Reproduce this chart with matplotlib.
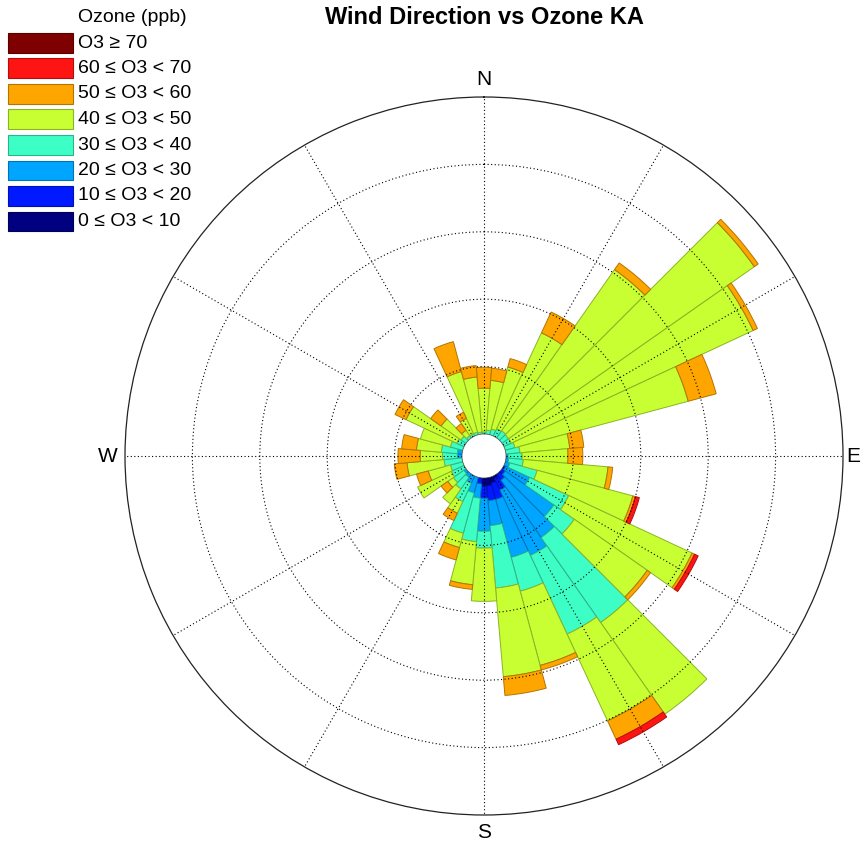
import numpy as np
import matplotlib
matplotlib.use("Agg")
import matplotlib.pyplot as plt
from matplotlib.patches import Rectangle

plt.rcParams['font.family'] = ['Liberation Sans', 'DejaVu Sans']

# wind direction sectors (deg, clockwise from north)
directions = np.arange(0, 360, 10)

# frequency (%) per ozone class, one value per sector
o3_0_10 = [0, 0, 0, 0, 0, 0, 0, 0, 0, 0, 0, 0,
           0, 0, 0.01, 0.04, 0.09, 0.12, 0.12, 0, 0, 0, 0, 0,
           0, 0, 0, 0, 0, 0, 0, 0, 0, 0, 0, 0]
o3_10_20 = [0, 0, 0, 0, 0, 0, 0, 0, 0, 0, 0, 0,
            0.03, 0.06, 0.10, 0.19, 0.25, 0.22, 0.18, 0.09, 0, 0, 0, 0,
            0, 0, 0, 0, 0, 0, 0, 0, 0, 0, 0, 0]
o3_20_30 = [0, 0, 0, 0, 0, 0, 0, 0, 0, 0.03, 0.04, 0.07,
            0.39, 0.88, 1.04, 1.07, 0.89, 0.37, 0.49, 0.21, 0.24, 0.12, 0.06, 0.04,
            0, 0, 0, 0.07, 0.07, 0, 0, 0, 0, 0, 0, 0]
o3_30_40 = [0.03, 0.06, 0.09, 0.12, 0.13, 0.12, 0.12, 0.15, 0.21, 0.21, 0.22, 0.42,
            0.64, 0.37, 1.54, 1.29, 0.52, 0.93, 0.25, 0.65, 0.62, 0.30, 0.21, 0.19,
            0.21, 0.19, 0.27, 0.22, 0.24, 0.19, 0.12, 0.09, 0.04, 0.04, 0.04, 0.03]
o3_40_50 = [0.65, 0.74, 0.95, 1.57, 2.92, 4.45, 3.96, 2.66, 0.74, 0.68, 1.26, 1.47,
            2.02, 1.32, 1.66, 1.42, 1.14, 1.32, 0.79, 0.64, 0.22, 0.19, 0.27, 0.10,
            0.55, 0.34, 0.55, 0.33, 0.37, 0.46, 0.83, 0.36, 0.10, 0.25, 0.93, 0.82]
o3_50_60 = [0.31, 0.18, 0.13, 0.34, 0.12, 0.07, 0.07, 0.43, 0.21, 0.22, 0.07, 0.04,
            0.04, 0.06, 0, 0.30, 0.07, 0.28, 0, 0.07, 0.19, 0.12, 0, 0.12,
            0, 0.18, 0.19, 0.33, 0.22, 0, 0.18, 0.19, 0.12, 0.10, 0.46, 0.17]
o3_60_70 = [0, 0, 0, 0, 0, 0, 0, 0, 0, 0, 0, 0.06,
            0.06, 0, 0, 0.09, 0, 0, 0, 0, 0, 0, 0, 0,
            0, 0, 0, 0, 0, 0, 0, 0, 0, 0, 0, 0]
o3_70_up = [0] * 36

bins = [o3_0_10, o3_10_20, o3_20_30, o3_30_40, o3_40_50, o3_50_60, o3_60_70, o3_70_up]
labels = ['0 \u2264 O3 < 10', '10 \u2264 O3 < 20', '20 \u2264 O3 < 30', '30 \u2264 O3 < 40',
          '40 \u2264 O3 < 50', '50 \u2264 O3 < 60', '60 \u2264 O3 < 70', 'O3 \u2265 70']
colors = ['#000080', '#0019FF', '#00A5FF', '#3DFFC6',
          '#C8FF32', '#FFA500', '#FF1414', '#7F0000']

W, H = 861, 841
fig = plt.figure(figsize=(W / 100, H / 100), dpi=100)

cx, cy, R = 484, 456, 359
ax = fig.add_axes([(cx - R) / W, (H - cy - R) / H, 2 * R / W, 2 * R / H],
                  projection='polar')
ax.set_theta_zero_location('N')
ax.set_theta_direction(-1)

rmax = 5.0
hole = 0.3264
ax.set_ylim(0, rmax)
ax.set_rorigin(-hole)

theta = np.deg2rad(directions)
width = np.deg2rad(10)
base = np.zeros(len(directions))
for vals, col in zip(bins, colors):
    vals = np.asarray(vals, dtype=float)
    m = vals > 0
    if m.any():
        edge = tuple(np.array(matplotlib.colors.to_rgb(col)) * 0.7)
        ax.bar(theta[m], vals[m], width=width, bottom=base[m], color=col,
               edgecolor=edge, linewidth=0.7, align='center', zorder=1)
    base += vals

# dotted grid on top of the bars
ax.set_axisbelow(False)
ax.set_rgrids([1, 2, 3, 4], labels=[''] * 4)
ax.set_thetagrids(np.arange(0, 360, 30), labels=[''] * 12)
ax.grid(True, color='k', linestyle=(0, (1, 2.2)), linewidth=0.8)
ax.spines['polar'].set_linewidth(0.9)
ax.spines['polar'].set_color('#222222')
ax.spines['inner'].set_linewidth(0.5)
ax.spines['inner'].set_color('#555555')

r_lab = 376 / 67.4 - hole
for ang, txt in zip([0, 180, 270], ['N', 'S', 'W']):
    ax.text(np.deg2rad(ang), r_lab, txt, ha='center', va='center', fontsize=15)
# east label sits against the right edge of the figure
fig.text(860 / W, 1 - cy / H, 'E', ha='right', va='center', fontsize=15)

fig.text(cx / W, 1 - 18 / H, 'Wind Direction vs Ozone KA', ha='center', va='center',
         fontsize=17, fontweight='bold')

# legend, highest class on top
fig.text(78 / W, 1 - 17 / H, 'Ozone (ppb)', ha='left', va='center', fontsize=14)
for i, k in enumerate(range(len(bins) - 1, -1, -1)):
    top = 33 + 25.5 * i
    edge = tuple(np.array(matplotlib.colors.to_rgb(colors[k])) * 0.7)
    fig.add_artist(Rectangle((8 / W, 1 - (top + 19.5) / H), 65 / W, 19.5 / H,
                             transform=fig.transFigure, facecolor=colors[k],
                             edgecolor=edge, linewidth=0.8))
    fig.text(78 / W, 1 - (top + 10) / H, labels[k], ha='left', va='center', fontsize=14)

fig.savefig('out.png', dpi=100)
